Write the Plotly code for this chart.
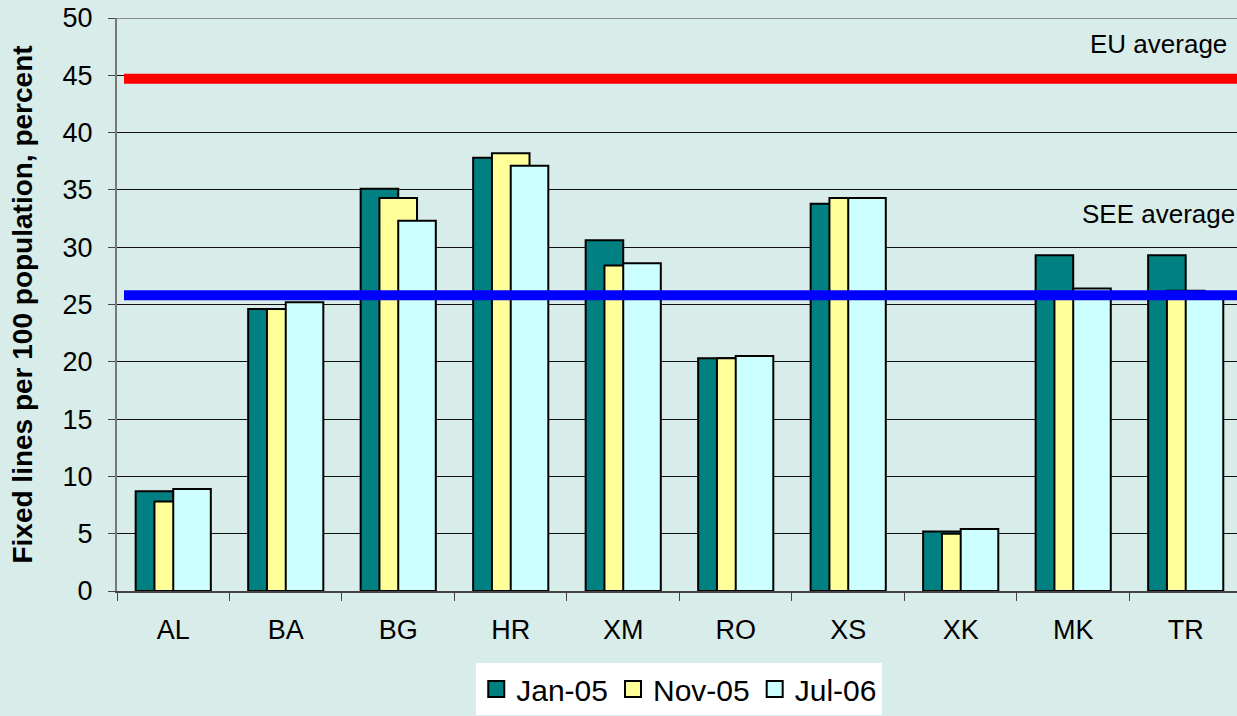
import plotly.graph_objects as go

categories = ["AL", "BA", "BG", "HR", "XM", "RO", "XS", "XK", "MK", "TR"]
jan05 = [8.7, 24.6, 35.1, 37.8, 30.6, 20.3, 33.8, 5.2, 29.3, 29.3]
nov05 = [7.8, 24.6, 34.3, 38.2, 28.4, 20.3, 34.3, 5.0, 25.8, 26.2]
jul06 = [8.9, 25.2, 32.3, 37.1, 28.6, 20.5, 34.3, 5.4, 26.4, 25.7]
series_names = ["Jan-05", "Nov-05", "Jul-06"]
eu_average = 44.7
see_average = 25.8
y_ticks = [0, 5, 10, 15, 20, 25, 30, 35, 40, 45, 50]

BG = "#D8ECE9"
colors = ["#008080", "#FFFF99", "#CCFFFF"]
bar_w = 0.334
offsets = [-bar_w, -bar_w / 2, 0.0]

fig = go.Figure()
for name, vals, col, off in zip(series_names, [jan05, nov05, jul06], colors, offsets):
    fig.add_trace(go.Bar(
        x=categories, y=vals, name=name, showlegend=False, legendgroup=name,
        marker=dict(color=col, line=dict(color="black", width=2)),
        width=bar_w, offset=off,
    ))
# legend entries with larger square swatches
for name, col in zip(series_names, colors):
    fig.add_trace(go.Scatter(
        x=[None], y=[None], mode="markers", name=name, legendgroup=name,
        marker=dict(symbol="square", size=20, color=col, line=dict(color="black", width=2)),
    ))

fig.add_shape(type="line", xref="x domain", yref="y", x0=0.00625, x1=1,
              y0=eu_average, y1=eu_average, line=dict(color="#FF0000", width=10))
fig.add_shape(type="line", xref="x domain", yref="y", x0=0.00625, x1=1,
              y0=see_average, y1=see_average, line=dict(color="#0000FF", width=10))
fig.add_shape(type="line", xref="x domain", yref="y", x0=0, x1=1,
              y0=50, y1=50, line=dict(color="#888888", width=2))

fig.add_annotation(text="EU average", xref="x domain", yref="y", x=0.9925, y=47.7,
                   xanchor="right", yanchor="middle", showarrow=False,
                   font=dict(size=26, color="black", family="Liberation Sans, Arial"))
fig.add_annotation(text="SEE average", xref="x domain", yref="y", x=1.0, y=32.9,
                   xanchor="right", yanchor="middle", showarrow=False,
                   font=dict(size=26, color="black", family="Liberation Sans, Arial"))

fig.update_layout(
    width=1237, height=716,
    paper_bgcolor=BG, plot_bgcolor=BG,
    barmode="overlay",
    margin=dict(l=117, r=0, t=18, b=125),
    font=dict(family="Liberation Sans, Arial", color="black", size=27),
    showlegend=True,
    legend=dict(orientation="h", x=0.502, xanchor="center", y=-0.1257, yanchor="top",
                bgcolor="white", font=dict(size=30), traceorder="normal",
                itemwidth=30, itemsizing="trace"),
    xaxis=dict(
        type="category", range=[-0.5, 9.456],
        showgrid=False, showline=True, linecolor="#444444", linewidth=2,
        ticks="outside", tickson="boundaries", ticklen=8, tickcolor="#444444", tickwidth=1,
        tickfont=dict(size=27), ticklabelstandoff=14,
    ),
    yaxis=dict(
        range=[0, 50], tickvals=y_ticks, showgrid=True, gridcolor="#111111", gridwidth=1,
        showline=True, linecolor="#777777", linewidth=2,
        ticks="outside", ticklen=7, tickcolor="#444444", tickwidth=1,
        tickfont=dict(size=27), zeroline=False, ticklabelstandoff=10,
        title=dict(text="<b>Fixed lines per 100 population, percent</b>",
                   font=dict(size=28), standoff=22),
    ),
)

fig.write_html(
    "out.html",
    config={"displayModeBar": False},
    post_script="document.body.style.margin='0';document.body.style.overflow='hidden';",
)
